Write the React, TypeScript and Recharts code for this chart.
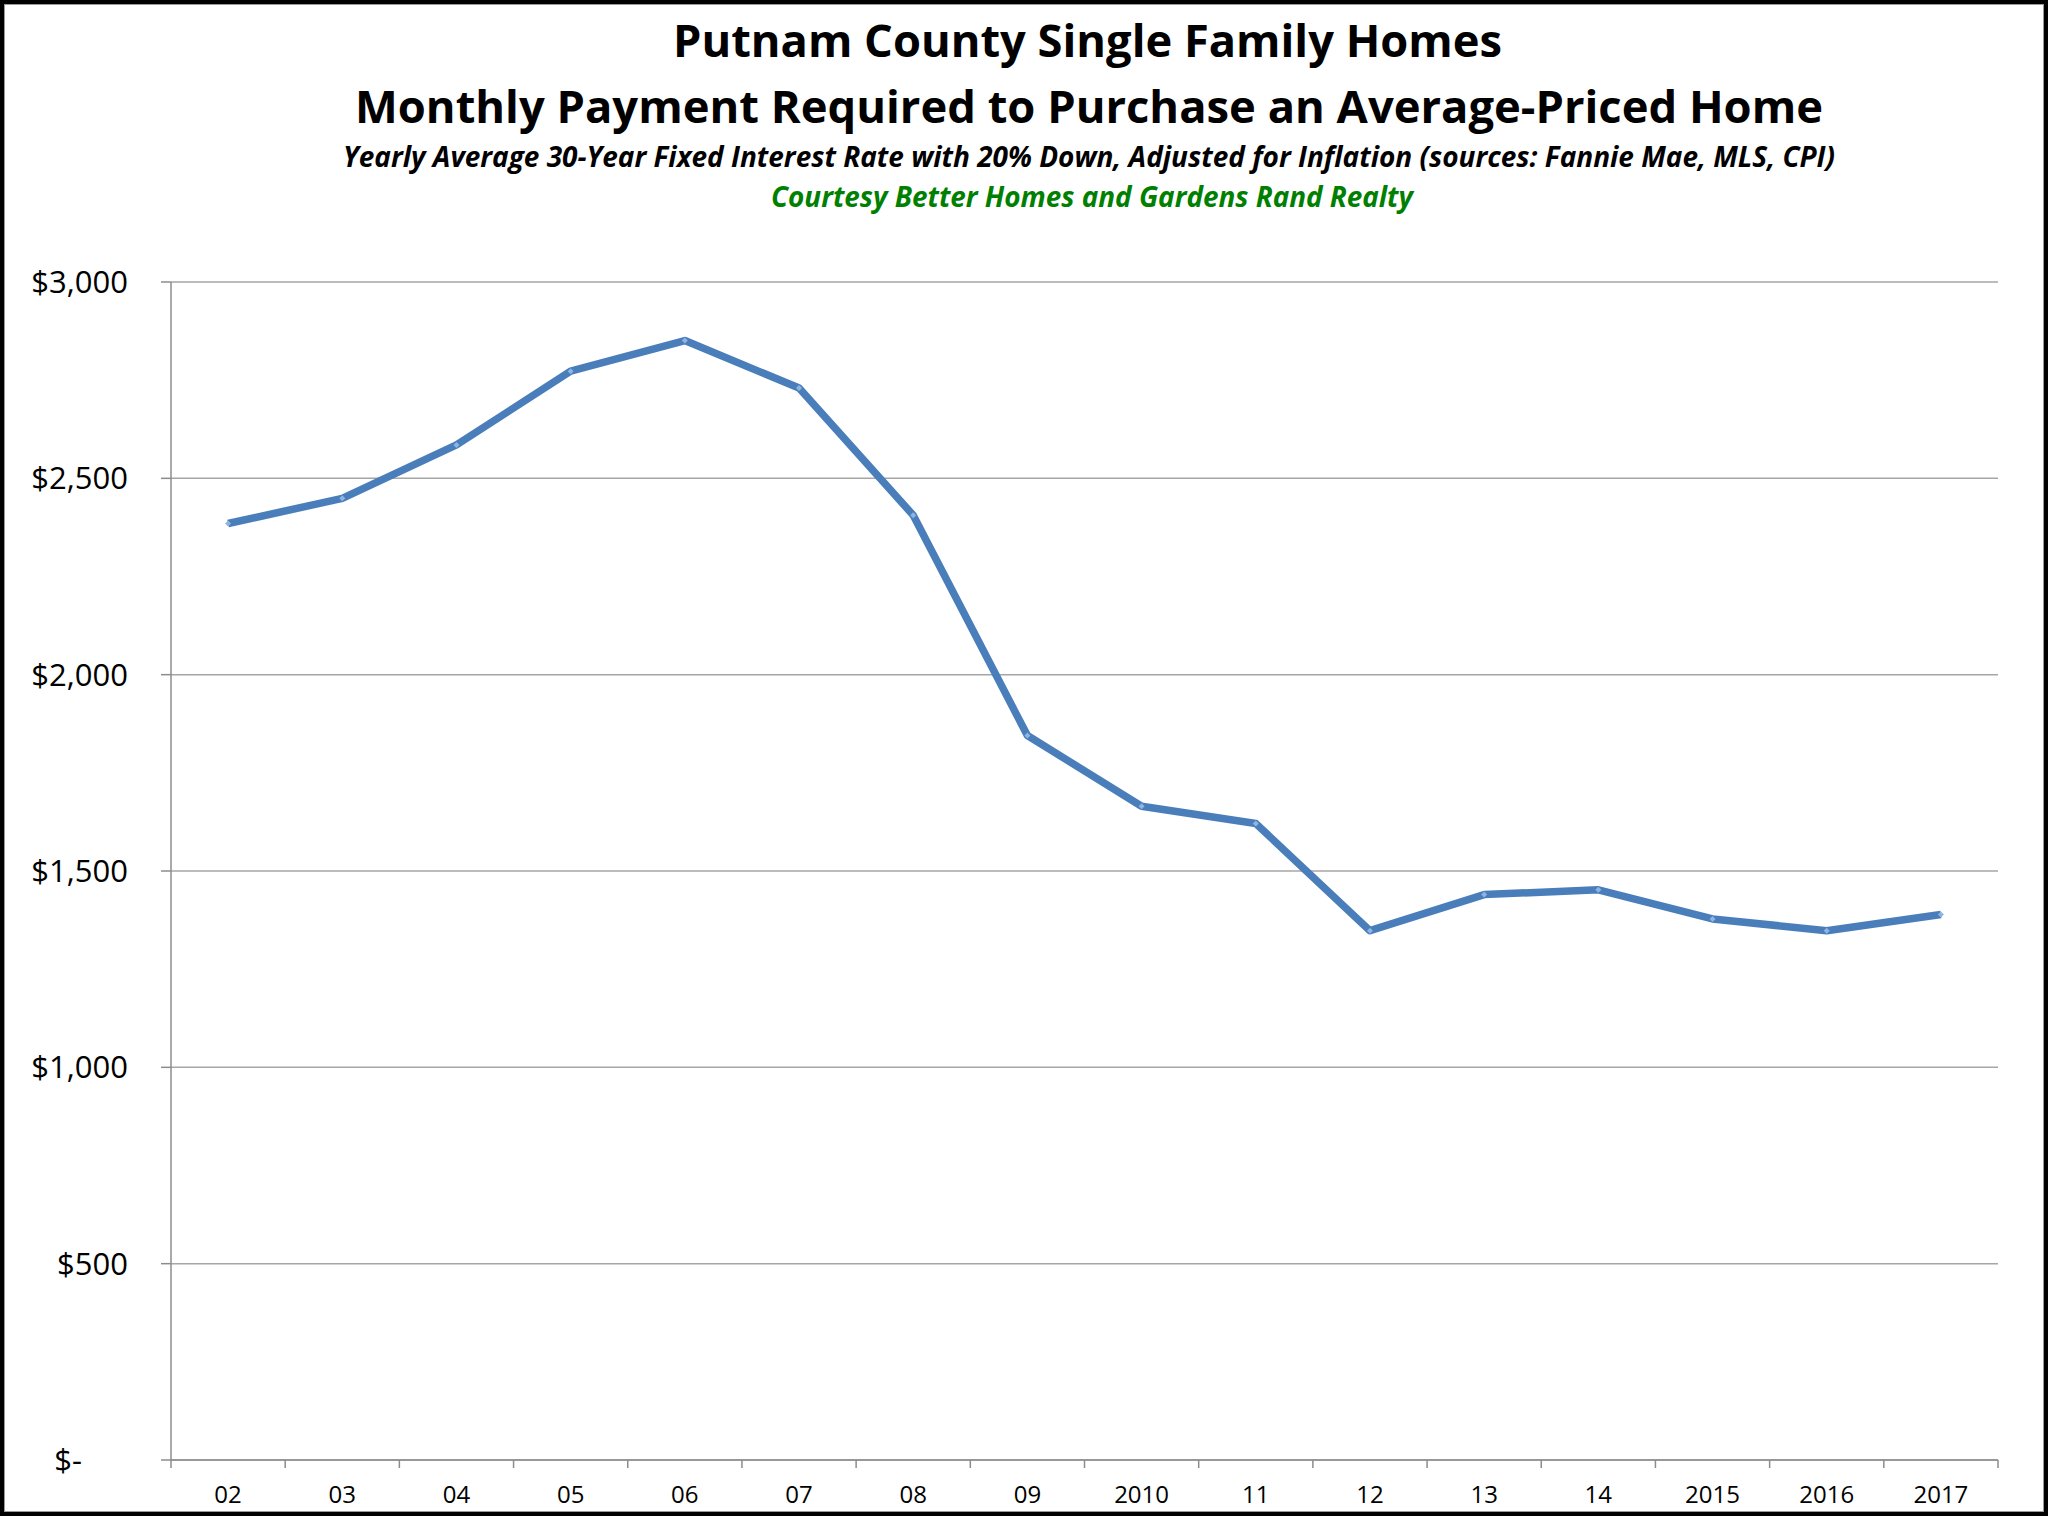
import { LineChart, Line, XAxis, YAxis, CartesianGrid } from "recharts";

// ── Data ─────────────────────────────────────────────────────────────────────

const years = ["02", "03", "04", "05", "06", "07", "08", "09", "2010", "11", "12", "13", "14", "2015", "2016", "2017"];
const payments = [2385, 2449, 2585, 2773, 2851, 2730, 2406, 1845, 1665, 1621, 1348, 1440, 1452, 1378, 1348, 1389];
const yTicks = [0, 500, 1000, 1500, 2000, 2500, 3000];

const titleLines = [
  "Putnam County Single Family Homes",
  "Monthly Payment Required to Purchase an Average-Priced Home",
];
const subtitle =
  "Yearly Average 30-Year Fixed Interest Rate with 20% Down, Adjusted for Inflation (sources: Fannie Mae, MLS, CPI)";
const courtesy = "Courtesy Better Homes and Gardens Rand Realty";

const data = years.map((year, i) => ({ year, payment: payments[i] }));

// ── Layout ───────────────────────────────────────────────────────────────────

const W = 2048;
const H = 1516;
const PLOT_LEFT = 171;
const PLOT_RIGHT = 1998;
const PLOT_TOP = 282;
const PLOT_BOTTOM = 1460;
const X_AXIS_H = 50;
const BAND = (PLOT_RIGHT - PLOT_LEFT) / years.length;

const FONT = "'Open Sans', 'Noto Sans', sans-serif";
const AXIS_GRAY = "#8c8c8c";
const GRID_GRAY = "#a6a6a6";
const LINE_BLUE = "#4a7ebb";

const fmtMoney = (v: number) => (v === 0 ? "$-" : "$" + v.toLocaleString("en-US"));

// ── Ticks ────────────────────────────────────────────────────────────────────

// category ticks sit on the band edges (Excel style), labels in the middle
function XTick(props: any) {
  const { x, index, payload } = props;
  const last = index === years.length - 1;
  return (
    <g>
      <line x1={x - BAND / 2} x2={x - BAND / 2} y1={PLOT_BOTTOM} y2={PLOT_BOTTOM + 8} stroke={AXIS_GRAY} strokeWidth={1.5} />
      {last && (
        <line x1={x + BAND / 2} x2={x + BAND / 2} y1={PLOT_BOTTOM} y2={PLOT_BOTTOM + 8} stroke={AXIS_GRAY} strokeWidth={1.5} />
      )}
      <text x={x} y={PLOT_BOTTOM + 43} textAnchor="middle" fontFamily={FONT} fontSize={24} fill="#000">
        {payload.value}
      </text>
    </g>
  );
}

function YTick(props: any) {
  const { y, payload } = props;
  const zero = payload.value === 0;
  return (
    <text
      x={zero ? 82 : 128}
      y={y}
      dy={11}
      textAnchor="end"
      fontFamily={FONT}
      fontSize={31}
      fill="#000"
    >
      {fmtMoney(payload.value)}
    </text>
  );
}

function Diamond(props: any) {
  const { cx, cy, index } = props;
  const r = 3;
  return (
    <path
      key={`d-${index}`}
      d={`M${cx},${cy - r} L${cx + r},${cy} L${cx},${cy + r} L${cx - r},${cy} Z`}
      fill="#8db4e2"
    />
  );
}

// ── Component ────────────────────────────────────────────────────────────────

export default function App() {
  return (
    <div style={{ position: "absolute", left: 0, top: 0, width: W, height: H, background: "#fff" }}>
      <div style={{ position: "absolute", left: 0, top: 0 }}>
        <LineChart
          width={W}
          height={H}
          data={data}
          margin={{ top: PLOT_TOP, right: W - PLOT_RIGHT, bottom: H - PLOT_BOTTOM - X_AXIS_H, left: 0 }}
        >
          <CartesianGrid horizontal vertical={false} stroke={GRID_GRAY} strokeWidth={1.5} />
          <XAxis
            dataKey="year"
            height={X_AXIS_H}
            padding={{ left: BAND / 2, right: BAND / 2 }}
            axisLine={{ stroke: AXIS_GRAY, strokeWidth: 1.5 }}
            tickLine={false}
            tick={<XTick />}
            interval={0}
          />
          <YAxis
            width={PLOT_LEFT}
            domain={[0, 3000]}
            ticks={yTicks}
            axisLine={{ stroke: AXIS_GRAY, strokeWidth: 1.5 }}
            tickLine={{ stroke: AXIS_GRAY, strokeWidth: 1.5 }}
            tickSize={10}
            tick={<YTick />}
            allowDataOverflow
          />
          <Line
            type="linear"
            dataKey="payment"
            stroke={LINE_BLUE}
            strokeWidth={7.5}
            strokeLinejoin="round"
            dot={Diamond}
            activeDot={false}
            isAnimationActive={false}
          />
        </LineChart>
      </div>

      <svg width={W} height={H} style={{ position: "absolute", left: 0, top: 0, pointerEvents: "none" }}>
        <text x={1087.5} y={56.5} textAnchor="middle" fontFamily={FONT} fontWeight={700} fontSize={44}
          textLength={829} lengthAdjust="spacingAndGlyphs" fill="#000">
          {titleLines[0]}
        </text>
        <text x={1089} y={123.3} textAnchor="middle" fontFamily={FONT} fontWeight={700} fontSize={44}
          textLength={1468} lengthAdjust="spacingAndGlyphs" fill="#000">
          {titleLines[1]}
        </text>
        <text x={1089} y={166.7} textAnchor="middle" fontFamily={FONT} fontWeight={700} fontStyle="italic" fontSize={29}
          textLength={1492} lengthAdjust="spacingAndGlyphs" fill="#000">
          {subtitle}
        </text>
        <text x={1092} y={206.7} textAnchor="middle" fontFamily={FONT} fontWeight={700} fontStyle="italic" fontSize={28}
          textLength={642} lengthAdjust="spacingAndGlyphs" fill="#008000">
          {courtesy}
        </text>
      </svg>

      <div
        style={{
          position: "absolute",
          left: 0,
          top: 0,
          width: W,
          height: H,
          boxSizing: "border-box",
          border: "4px solid #000",
          boxShadow: "inset 0 0 0 1px #9a9a9a",
          pointerEvents: "none",
        }}
      />
    </div>
  );
}
